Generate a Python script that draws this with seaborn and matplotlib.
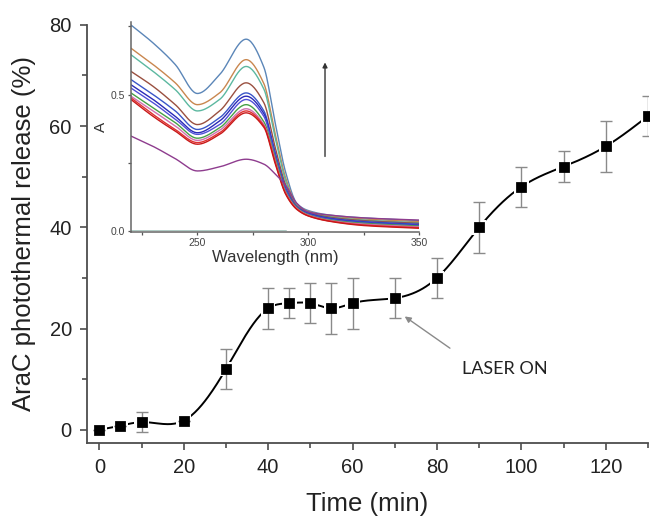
import matplotlib
matplotlib.use("Agg")
import matplotlib.pyplot as plt
from matplotlib.ticker import MultipleLocator, FormatStrFormatter
import numpy as np
import pandas as pd
import seaborn as sns

# main series: release vs time
tempo = [0, 5, 10, 20, 30, 40, 45, 50, 55, 60, 70, 80, 90, 100, 110, 120, 130]
liberacao = [0, 0.8, 1.5, 1.8, 12, 24, 25, 25, 24, 25, 26, 30, 40, 48, 52, 56, 62]
erro = [0, 0, 2, 0, 4, 4, 3, 4, 5, 5, 4, 4, 5, 4, 3, 5, 4]

# inset: absorbance spectra
comprimento = [220, 230, 240, 250, 260, 272, 280, 285, 290, 295, 300, 310, 325, 350]
c01 = [0.755, 0.689, 0.61, 0.504, 0.573, 0.703, 0.60, 0.40, 0.21, 0.10, 0.075, 0.058, 0.048, 0.038]
c02 = [0.67, 0.61, 0.543, 0.463, 0.506, 0.628, 0.54, 0.36, 0.19, 0.095, 0.072, 0.055, 0.044, 0.034]
c03 = [0.646, 0.585, 0.518, 0.44, 0.482, 0.603, 0.52, 0.345, 0.18, 0.092, 0.07, 0.052, 0.04, 0.03]
c04 = [0.585, 0.53, 0.463, 0.39, 0.44, 0.543, 0.47, 0.31, 0.165, 0.09, 0.068, 0.05, 0.038, 0.028]
c05 = [0.555, 0.5, 0.44, 0.372, 0.415, 0.506, 0.44, 0.29, 0.155, 0.088, 0.066, 0.047, 0.035, 0.025]
c06 = [0.536, 0.482, 0.42, 0.36, 0.403, 0.494, 0.43, 0.285, 0.15, 0.086, 0.064, 0.045, 0.032, 0.022]
c07 = [0.524, 0.47, 0.41, 0.354, 0.39, 0.482, 0.42, 0.28, 0.148, 0.085, 0.062, 0.043, 0.03, 0.02]
c08 = [0.506, 0.451, 0.397, 0.34, 0.378, 0.463, 0.40, 0.27, 0.142, 0.084, 0.06, 0.04, 0.028, 0.018]
c09 = [0.494, 0.44, 0.385, 0.332, 0.369, 0.448, 0.39, 0.26, 0.138, 0.082, 0.058, 0.038, 0.025, 0.015]
c10 = [0.488, 0.427, 0.372, 0.324, 0.36, 0.44, 0.385, 0.255, 0.135, 0.08, 0.056, 0.036, 0.022, 0.012]
c11 = [0.482, 0.42, 0.366, 0.318, 0.354, 0.433, 0.38, 0.25, 0.132, 0.078, 0.055, 0.035, 0.02, 0.01]
c12 = [0.348, 0.31, 0.265, 0.22, 0.235, 0.263, 0.245, 0.21, 0.165, 0.10, 0.07, 0.058, 0.048, 0.04]
espectros = [c01, c02, c03, c04, c05, c06, c07, c08, c09, c10, c11, c12]
cores = ["#5b86b8", "#c9874f", "#5cb8a0", "#9a5040", "#3a56c8", "#2a2ab8",
         "#5050d8", "#46a046", "#d070b0", "#e03030", "#c81818", "#8e3c8e"]
linha_base = [0.004, 0.004]
linha_base_wl = [220, 290]


def spline_natural(x, y, n=500):
    """Linha suave (spline cubica natural) passando pelos pontos."""
    x = np.asarray(x, float)
    y = np.asarray(y, float)
    k = len(x)
    h = np.diff(x)
    A = np.zeros((k, k))
    b = np.zeros(k)
    A[0, 0] = A[-1, -1] = 1
    for i in range(1, k - 1):
        A[i, i - 1] = h[i - 1]
        A[i, i] = 2 * (h[i - 1] + h[i])
        A[i, i + 1] = h[i]
        b[i] = 3 * ((y[i + 1] - y[i]) / h[i] - (y[i] - y[i - 1]) / h[i - 1])
    c = np.linalg.solve(A, b)
    xs = np.linspace(x[0], x[-1], n)
    j = np.clip(np.searchsorted(x, xs) - 1, 0, k - 2)
    dx = xs - x[j]
    bb = (y[j + 1] - y[j]) / h[j] - h[j] * (2 * c[j] + c[j + 1]) / 3
    dd = (c[j + 1] - c[j]) / (3 * h[j])
    return xs, y[j] + bb * dx + c[j] * dx ** 2 + dd * dx ** 3


def pchip(x, y, n=300):
    """Interpolacao monotona para desenhar os espectros sem oscilacoes."""
    x = np.asarray(x, float)
    y = np.asarray(y, float)
    h = np.diff(x)
    delta = np.diff(y) / h
    m = np.zeros_like(y)
    m[0], m[-1] = delta[0], delta[-1]
    for i in range(1, len(x) - 1):
        if delta[i - 1] * delta[i] > 0:
            w1 = 2 * h[i] + h[i - 1]
            w2 = h[i] + 2 * h[i - 1]
            m[i] = (w1 + w2) / (w1 / delta[i - 1] + w2 / delta[i])
    xs = np.linspace(x[0], x[-1], n)
    j = np.clip(np.searchsorted(x, xs) - 1, 0, len(x) - 2)
    t = (xs - x[j]) / h[j]
    h00 = 2 * t ** 3 - 3 * t ** 2 + 1
    h10 = t ** 3 - 2 * t ** 2 + t
    h01 = -2 * t ** 3 + 3 * t ** 2
    h11 = t ** 3 - t ** 2
    return xs, h00 * y[j] + h10 * h[j] * m[j] + h01 * y[j + 1] + h11 * h[j] * m[j + 1]


sns.set_theme(style="ticks")
plt.rcParams["font.family"] = ["Liberation Sans", "DejaVu Sans"]

fig = plt.figure(figsize=(6.5, 5.18), dpi=100)
ax = fig.add_axes([0.134, 0.145, 0.863, 0.807])

xs, ys = spline_natural(tempo, liberacao)
sns.lineplot(x=xs, y=ys, color="black", linewidth=1.4, sort=False, ax=ax, zorder=2)
sns.scatterplot(x=tempo, y=liberacao, marker="s", s=110, color="white",
                edgecolor="none", ax=ax, zorder=3, clip_on=False)
ax.errorbar(tempo, liberacao, yerr=erro, fmt="none", ecolor="#8a8a8a",
            elinewidth=1, capsize=4, capthick=1, zorder=4)
sns.scatterplot(x=tempo, y=liberacao, marker="s", s=48, color="black",
                edgecolor="black", ax=ax, zorder=5, clip_on=False)

ax.set_xlim(-2.9, 130)
ax.set_ylim(-2.6, 80)
ax.xaxis.set_major_locator(MultipleLocator(20))
ax.xaxis.set_minor_locator(MultipleLocator(10))
ax.yaxis.set_major_locator(MultipleLocator(20))
ax.yaxis.set_minor_locator(MultipleLocator(10))
ax.tick_params(which="major", length=5, width=1.2, color="#4d4d4d",
               labelsize=14.5, labelcolor="#222222", direction="out", pad=6)
ax.tick_params(which="minor", length=3.5, width=1.2, color="#4d4d4d", direction="out")
ax.set_xlabel("Time (min)", fontsize=18.5, color="#222222", labelpad=11)
ax.set_ylabel("AraC photothermal release (%)", fontsize=18.5, color="#222222", labelpad=10)
sns.despine(ax=ax)
for lado in ("left", "bottom"):
    ax.spines[lado].set_color("#4d4d4d")
    ax.spines[lado].set_linewidth(1.3)

ax.annotate("", xy=(71.8, 22.7), xytext=(83.6, 15.8),
            arrowprops=dict(arrowstyle="-|>", color="#8a8a8a", lw=1, mutation_scale=9))
ax.text(86, 12, "LASER ON", fontsize=13, family=["Lato", "DejaVu Sans"],
        color="#222222", va="center", ha="left")

# inset com os espectros
ins = fig.add_axes([0.2015, 0.552, 0.443, 0.405])
linhas = []
for nome, valores in enumerate(espectros):
    wx, wy = pchip(comprimento, valores)
    linhas.append(pd.DataFrame({"wl": wx, "A": wy, "curva": nome}))
df_esp = pd.concat(linhas, ignore_index=True)
sns.lineplot(data=df_esp, x="wl", y="A", hue="curva", palette=cores,
             linewidth=1, legend=False, sort=False, ax=ins)
sns.lineplot(x=linha_base_wl, y=linha_base, color="#7aa89c", linewidth=0.6, alpha=0.7, ax=ins)

ins.set_xlim(220, 350)
ins.set_ylim(-0.004, 0.765)
ins.set_facecolor("none")
ins.xaxis.set_major_locator(MultipleLocator(50))
ins.xaxis.set_minor_locator(MultipleLocator(25))
ins.yaxis.set_major_locator(MultipleLocator(0.5))
ins.yaxis.set_minor_locator(MultipleLocator(0.25))
ins.yaxis.set_major_formatter(FormatStrFormatter("%.1f"))
ins.tick_params(which="both", length=2.5, width=0.9, color="#555555",
                labelsize=7.5, labelcolor="#444444", pad=2)
ins.set_xlabel("Wavelength (nm)", fontsize=12, color="#333333", labelpad=1)
ins.set_ylabel("A", fontsize=11, color="#333333", labelpad=2)
sns.despine(ax=ins)
for lado in ("left", "bottom"):
    ins.spines[lado].set_color("#666666")
    ins.spines[lado].set_linewidth(1.1)
ins.annotate("", xy=(307.6, 0.628), xytext=(307.6, 0.263),
             arrowprops=dict(arrowstyle="-|>", color="#333333", lw=1, mutation_scale=7))

fig.savefig("out.png", dpi=100)
